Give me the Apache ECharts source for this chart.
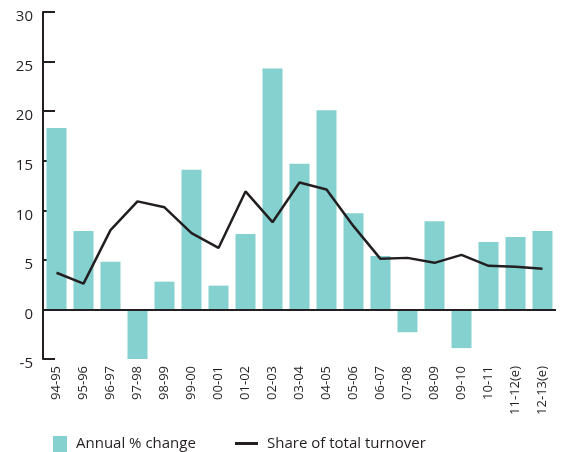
<!DOCTYPE html>
<html lang="en">
<head>
    <meta charset="utf-8">
    <title>Annual % change</title>
    <script src="https://cdn.jsdelivr.net/npm/echarts@6/dist/echarts.min.js"></script>
    <style>
        html, body { margin: 0; padding: 0; background: #fff; }
    </style>
</head>
<body>

<div id="main" style="width: 564px;height:452px;"></div>

<script>
    // data
    var years = ['94-95', '95-96', '96-97', '97-98', '98-99', '99-00', '00-01', '01-02', '02-03', '03-04',
        '04-05', '05-06', '06-07', '07-08', '08-09', '09-10', '10-11', '11-12(e)', '12-13(e)'];
    var annualChange = [18.3, 7.9, 4.8, -5.0, 2.8, 14.1, 2.4, 7.6, 24.3, 14.7,
        20.1, 9.7, 5.4, -2.3, 8.9, -3.9, 6.8, 7.3, 7.9];
    var shareOfTurnover = [3.7, 2.6, 8.0, 10.9, 10.3, 7.7, 6.2, 11.9, 8.8, 12.8,
        12.1, 8.4, 5.1, 5.2, 4.7, 5.5, 4.4, 4.3, 4.1];
    var yTicks = [-5, 0, 5, 10, 15, 20, 25, 30];

    var barName = 'Annual % change';
    var lineName = 'Share of total turnover';
    var ink = '#231f20';

    var myChart = echarts.init(document.getElementById('main'));

    var option = {
        animation: false,
        textStyle: { fontFamily: 'Open Sans', color: ink },
        grid: { left: 43, right: 8, top: 12, bottom: 93 },
        legend: [
            {
                data: [{ name: barName, icon: 'rect' }],
                left: 53, top: 436, padding: 0,
                itemWidth: 14, itemHeight: 16,
                textStyle: { fontSize: 15, color: ink, padding: [0, 0, 0, 4] }
            },
            {
                data: [{ name: lineName, icon: 'rect', itemStyle: { color: ink } }],
                left: 235, top: 436, padding: 0,
                itemWidth: 23, itemHeight: 3,
                textStyle: { fontSize: 15, color: ink, padding: [0, 0, 0, 4] }
            }
        ],
        xAxis: {
            type: 'category',
            data: years,
            axisLine: { show: false, onZero: false },
            axisTick: { show: false },
            axisLabel: { rotate: 90, fontSize: 13, color: ink, margin: 7, interval: 0 }
        },
        yAxis: {
            type: 'value',
            min: yTicks[0],
            max: yTicks[yTicks.length - 1],
            interval: 5,
            splitLine: { show: false },
            axisLine: { show: true, lineStyle: { color: ink, width: 2 } },
            axisTick: { show: true, inside: true, length: 12, lineStyle: { color: ink, width: 2 } },
            axisLabel: { fontSize: 15, color: ink, margin: 10, verticalAlign: 'top', lineHeight: 10 }
        },
        series: [
            {
                name: barName,
                type: 'bar',
                data: annualChange,
                barWidth: 20,
                itemStyle: { color: '#84d1d0' },
                markLine: {
                    silent: true,
                    symbol: 'none',
                    label: { show: false },
                    lineStyle: { color: ink, width: 2, type: 'solid' },
                    data: [{ yAxis: 0 }]
                }
            },
            {
                name: lineName,
                type: 'line',
                data: shareOfTurnover,
                showSymbol: false,
                symbol: 'none',
                z: 5,
                lineStyle: { color: ink, width: 2.5 },
                itemStyle: { color: ink }
            }
        ]
    };

    myChart.setOption(option);
</script>
</body>
</html>
